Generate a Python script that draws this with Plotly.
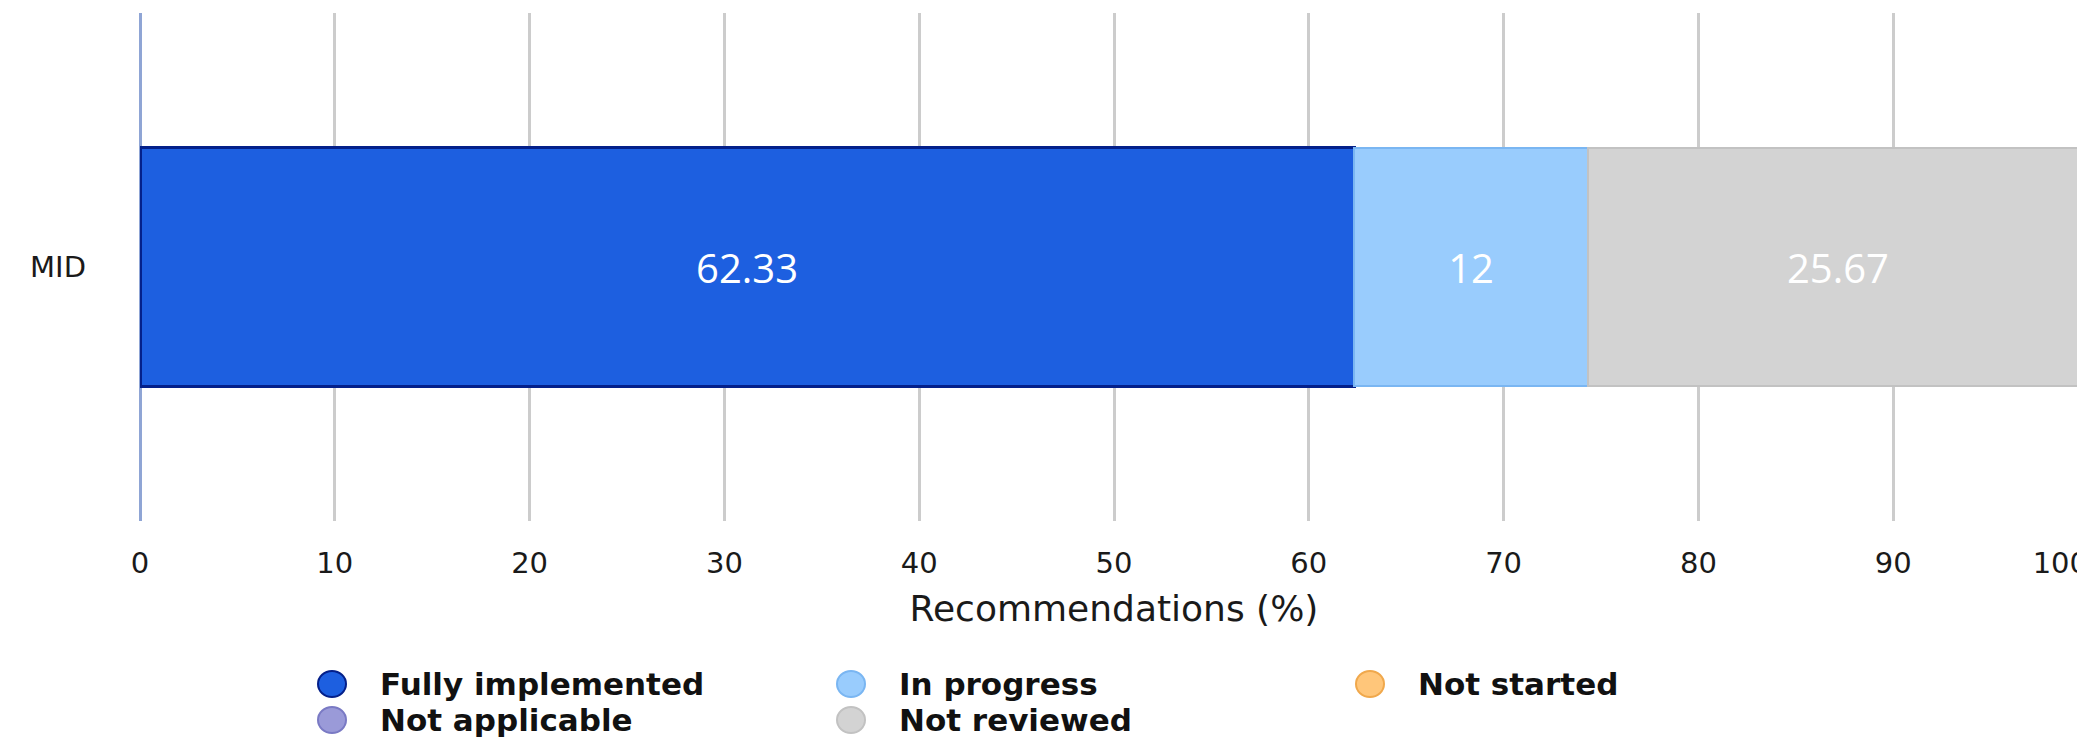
import plotly.graph_objects as go

# ---- data ----
categories = ["MID"]
series_names = ["Fully implemented", "In progress", "Not started", "Not applicable", "Not reviewed"]
fully_implemented = [62.33]
in_progress = [12]
not_started = [0]
not_applicable = [0]
not_reviewed = [25.67]
series_values = [fully_implemented, in_progress, not_started, not_applicable, not_reviewed]
x_ticks = [0, 10, 20, 30, 40, 50, 60, 70, 80, 90, 100]
x_title = "Recommendations (%)"

# ---- styles ----
fill_colors = ["#1d5fe0", "#99ccfd", "#ffc67a", "#9a9ad8", "#d3d3d3"]
line_colors = ["#04208a", "#7ab6f2", "#f0a84c", "#7a7ac4", "#c2c2c2"]
line_widths = [3, 2, 2, 2, 2]

# page body has an 8px margin; work in page pixels and convert
OFF = 8
W, H = 2085, 738
L = 140 - OFF          # plot left edge in figure px
R = W - (2088 - OFF)   # plot right edge at page x=2088
T = 13 - OFF
B = H - (521 - OFF)

fig = go.Figure()
for name, vals, fc, lc, lw in zip(series_names, series_values, fill_colors, line_colors, line_widths):
    fig.add_trace(go.Bar(
        name=name, y=categories, x=vals, orientation="h",
        marker=dict(color=fc, line=dict(color=lc, width=lw if any(vals) else 0)),
        text=[f"{v:g}" if v else "" for v in vals],
        textposition="inside", insidetextanchor="middle", textangle=0,
        textfont=dict(family="Open Sans", size=40, color="white"),
        showlegend=False, hoverinfo="x+name",
    ))

def px_x(px):
    return (px - OFF - L) / (W - L - R)

def px_y(py):
    return (H - B - (py - OFF)) / (H - T - B)

# manual legend (circular swatches, 3 columns) — page pixel positions
col_x = [332, 851, 1370]
row_y = [684, 720]
shapes, annotations = [], []
for i, (name, fc, lc) in enumerate(zip(series_names, fill_colors, line_colors)):
    cx, cy = col_x[i % 3], row_y[i // 3]
    shapes.append(dict(type="circle", xref="paper", yref="paper",
                       x0=px_x(cx - 14), x1=px_x(cx + 14),
                       y0=px_y(cy + 13), y1=px_y(cy - 13),
                       fillcolor=fc, line=dict(color=lc, width=2), layer="above"))
    annotations.append(dict(text=name, xref="paper", yref="paper",
                            x=px_x(cx + 46), y=px_y(cy), xanchor="left", yanchor="middle",
                            showarrow=False,
                            font=dict(family="DejaVu Sans", size=31, color="#111111", weight="bold")))

# last tick label kept inside the chart edge (padded with no-break spaces)
tick_text = [str(t) for t in x_ticks]
tick_text[-1] = tick_text[-1] + "\u00a0" * 6

fig.update_layout(
    width=W, height=H, barmode="stack", bargap=0.53,
    margin=dict(l=L, r=R, t=T, b=B, autoexpand=False),
    plot_bgcolor="white", paper_bgcolor="white",
    showlegend=False, shapes=shapes, annotations=annotations,
    xaxis=dict(range=[0, 100], tickvals=x_ticks, ticktext=tick_text,
               showgrid=True, gridcolor="#cccccc", gridwidth=3,
               zeroline=True, zerolinecolor="#8fa5d5", zerolinewidth=3,
               showline=False, ticks="", ticklabelstandoff=22, ticklabeloverflow="allow",
               tickfont=dict(family="DejaVu Sans", size=29, color="#1a1a1a"),
               title=dict(text=x_title, standoff=16,
                          font=dict(family="DejaVu Sans", size=36, color="#1a1a1a"))),
    yaxis=dict(showgrid=False, zeroline=False, showline=False, ticks="",
               ticklabelstandoff=53,
               tickfont=dict(family="DejaVu Sans", size=29, color="#1a1a1a")),
)

fig.write_html("out.html")
